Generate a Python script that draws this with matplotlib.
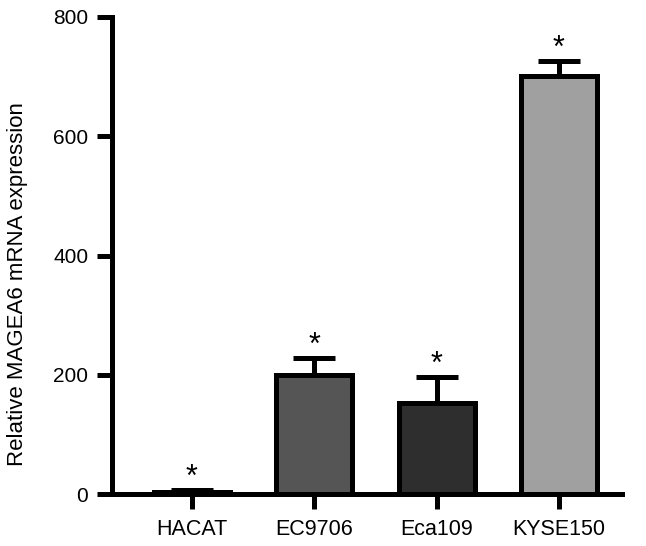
import matplotlib.pyplot as plt
import numpy as np

plt.rcParams['font.family'] = ['Liberation Sans', 'DejaVu Sans']

cell_lines = ["HACAT", "EC9706", "Eca109", "KYSE150"]
expression = [3, 200, 153, 701]
error_up = [4, 28, 43, 25]
bar_colors = ["#ffffff", "#555555", "#2e2e2e", "#a0a0a0"]

fig = plt.figure(figsize=(6.46, 5.46), dpi=100)
ax = fig.add_axes([0.173, 0.095, 0.79, 0.874])

x = np.arange(len(cell_lines))
lw = 3.6
ax.bar(x, expression, width=0.62, color=bar_colors, edgecolor="black", linewidth=lw, zorder=2)
ax.errorbar(x, expression, yerr=[np.zeros(len(x)), error_up], fmt="none",
            ecolor="black", elinewidth=lw, capsize=15, capthick=lw, zorder=1)

for xi, v, e in zip(x, expression, error_up):
    ax.annotate("*", (xi, v + e), xytext=(0, -2), textcoords="offset points",
                ha="center", va="bottom", fontsize=22)

ax.set_xlim(-0.654, 3.516)
ax.set_ylim(0, 800)
ax.set_yticks([0, 200, 400, 600, 800])
ax.set_xticks(x)
ax.set_xticklabels(cell_lines)
ax.set_ylabel("Relative MAGEA6 mRNA expression", fontsize=16)
ax.yaxis.set_label_coords(-0.165, 0.44)

for s in ["top", "right"]:
    ax.spines[s].set_visible(False)
for s in ["left", "bottom"]:
    ax.spines[s].set_linewidth(lw)
ax.spines["left"].set_bounds(0, 800)
ax.tick_params(axis="both", length=11, width=lw, pad=6)
ax.tick_params(axis="y", labelsize=15)
ax.tick_params(axis="x", labelsize=15.5, pad=7)

fig.savefig("out.png", dpi=100)
